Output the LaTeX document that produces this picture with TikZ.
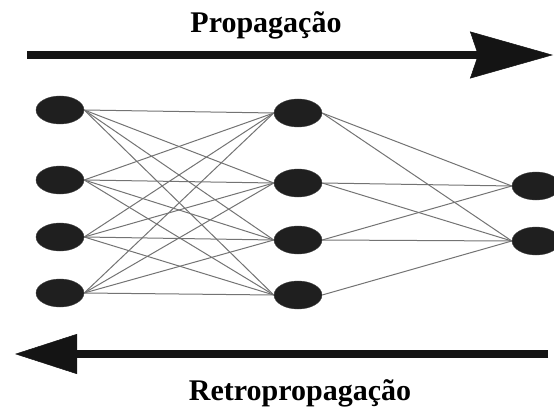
\documentclass[tikz,border=0pt]{standalone}
\usepackage{fontspec}
\setmainfont{Liberation Serif}
\usetikzlibrary{shapes.geometric}
\usetikzlibrary{arrows.meta}

\begin{document}
\begin{tikzpicture}[x=1pt, y=-1pt,
	neuron/.style={ellipse, fill=black!88, draw=black!75, minimum width=48pt, minimum height=28pt, inner sep=0pt},
	synapse/.style={draw=black!55, line width=1pt},
	flowarrow/.style={line width=8pt, draw=black!92},
	flowlabel/.style={font=\fontsize{30}{36}\selectfont\bfseries, inner sep=0pt, anchor=base}]
	\useasboundingbox (0,0) rectangle (554,409);
	% labels
	\node[flowlabel] (fwdlabel) at (266,33) {Propagação};
	\node[flowlabel] (backlabel) at (300,400) {Retropropagação};
	% layers
	\node[neuron] (in1) at (60,110) {};
	\node[neuron] (in2) at (60,180) {};
	\node[neuron] (in3) at (60,237) {};
	\node[neuron] (in4) at (60,293) {};
	\node[neuron] (hid1) at (298,113) {};
	\node[neuron] (hid2) at (298,183) {};
	\node[neuron] (hid3) at (298,240) {};
	\node[neuron] (hid4) at (298,295) {};
	\node[neuron] (out1) at (536,186) {};
	\node[neuron] (out2) at (536,241) {};
	% connections
	\foreach \i in {1,...,4}
		\foreach \j in {1,...,4}
			\draw[synapse] (in\i.east) -- (hid\j.west);
	\foreach \i/\j in {1/1,1/2,2/1,2/2,3/1,3/2,4/2}
		\draw[synapse] (hid\i.east) -- (out\j.west);
	% direction arrows
	\coordinate (fwdstart) at (27,55);
	\coordinate (fwdend) at (553,55);
	\coordinate (backstart) at (548,354);
	\coordinate (backend) at (15,354);
	\draw[flowarrow, -{Stealth[length=83pt, width=47pt, inset=8pt, line width=0.5pt]}] (fwdstart) -- (fwdend);
	\draw[flowarrow, -{Triangle[length=62pt, width=40pt, line width=0.5pt]}] (backstart) -- (backend);
\end{tikzpicture}
\end{document}
